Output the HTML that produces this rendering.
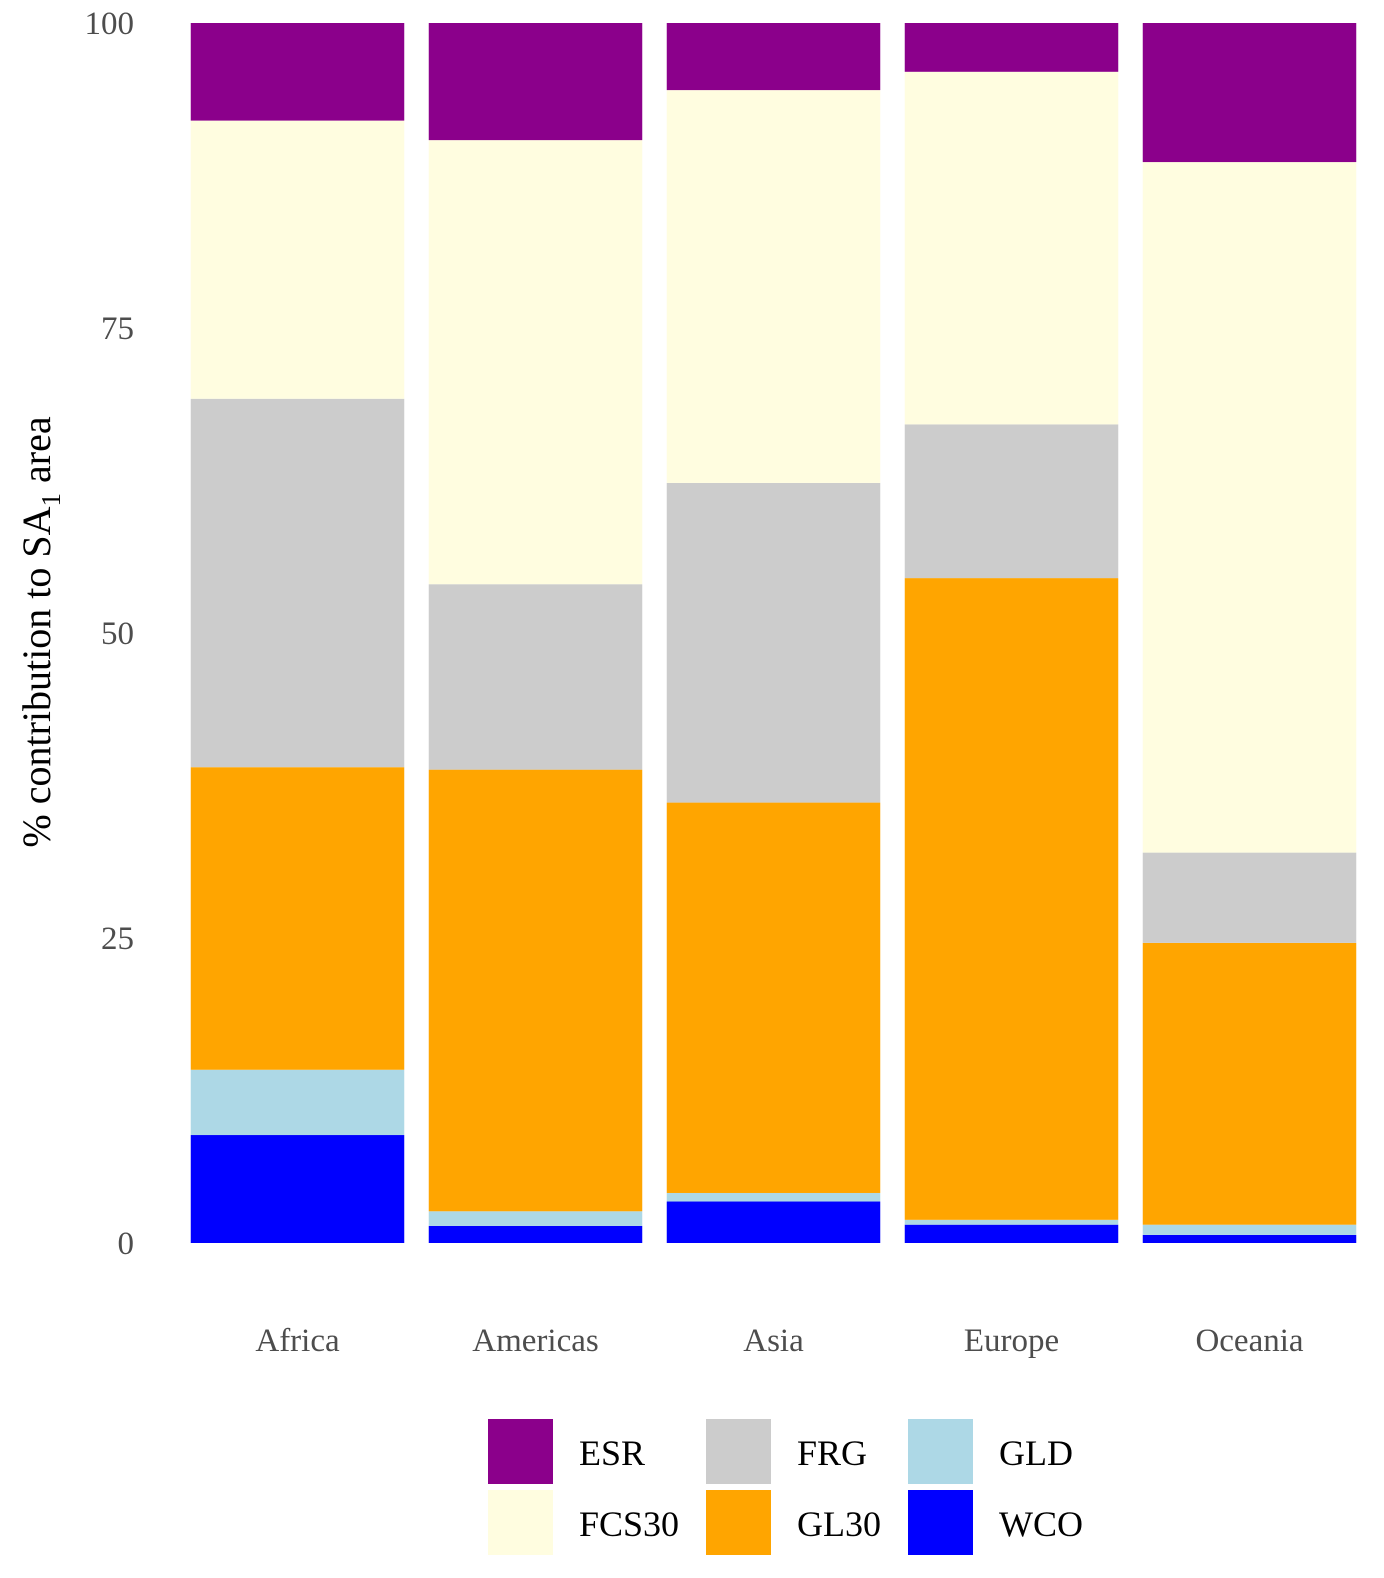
<!DOCTYPE html>
<html><head><meta charset="utf-8"><style>
html,body{margin:0;padding:0;background:#fff;width:1384px;height:1578px;overflow:hidden;}
svg{display:block;}
svg text{font-family:"Liberation Serif",serif;}
</style></head><body>
<svg id="chart" width="1384" height="1578" xmlns="http://www.w3.org/2000/svg">
<g id="plot"></g>
<text x="0" y="0" transform="translate(50,632) rotate(-90)" text-anchor="middle" font-size="40" fill="#000">% contribution to SA<tspan font-size="27" dy="10">1</tspan><tspan dy="-10"> area</tspan></text>
<g id="legend"></g>
</svg>
<script>
const categories = ["Africa","Americas","Asia","Europe","Oceania"];
const seriesNames = ["WCO","GLD","GL30","FRG","FCS30","ESR"];
const WCO   = [8.85, 1.4, 3.4, 1.5, 0.66];
const GLD   = [5.35, 1.2, 0.7, 0.4, 0.84];
const GL30  = [24.8, 36.2, 32.0, 52.6, 23.1];
const FRG   = [30.2, 15.2, 26.2, 12.6, 7.4];
const FCS30 = [22.8, 36.4, 32.2, 28.9, 56.6];
const ESR   = [8.0, 9.6, 5.5, 4.0, 11.4];
const yTicks = [0,25,50,75,100];
const colors = {WCO:"#0000FF",GLD:"#ADD8E6",GL30:"#FFA500",FRG:"#CCCCCC",FCS30:"#FFFDE0",ESR:"#8B008B"};
const seriesData = {WCO,GLD,GL30,FRG,FCS30,ESR};

const NS="http://www.w3.org/2000/svg";
const plot=document.getElementById('plot');
const x0=178.5, band=238, barW=213.5;
const yS=v=>1243-v*12.2;
const xC=i=>x0+band*(i+0.5);

yTicks.forEach(t=>{
  const el=document.createElementNS(NS,'text');
  
  
  el.setAttribute('x',134);el.setAttribute('y',yS(t)+11);
  el.setAttribute('text-anchor','end');el.setAttribute('font-size','33');el.setAttribute('fill','#4d4d4d');
  el.textContent=t;plot.appendChild(el);
});
categories.forEach((c,i)=>{
  let cum=0;
  seriesNames.forEach(s=>{
    const v=seriesData[s][i];
    const r=document.createElementNS(NS,'rect');
    
    
    r.setAttribute('x',xC(i)-barW/2);r.setAttribute('width',barW);
    r.setAttribute('y',yS(cum+v));r.setAttribute('height',yS(cum)-yS(cum+v));
    r.setAttribute('fill',colors[s]);plot.appendChild(r);
    cum+=v;
  });
  const t=document.createElementNS(NS,'text');
  
  
  t.setAttribute('x',xC(i));t.setAttribute('y',1351);t.setAttribute('text-anchor','middle');
  t.setAttribute('font-size','33');t.setAttribute('fill','#4d4d4d');t.textContent=c;plot.appendChild(t);
});
const leg=document.getElementById('legend');
const legOrder=[["ESR",488,1419],["FCS30",488,1490],["FRG",706,1419],["GL30",706,1490],["GLD",908,1419],["WCO",908,1490]];
legOrder.forEach(([s,x,y])=>{
  const r=document.createElementNS(NS,'rect');
  
  
  r.setAttribute('x',x);r.setAttribute('y',y);r.setAttribute('width',65);r.setAttribute('height',65);
  r.setAttribute('fill',colors[s]);leg.appendChild(r);
  const t=document.createElementNS(NS,'text');
  
  
  t.setAttribute('x',x+91);t.setAttribute('y',y+46);t.setAttribute('font-size','36');t.setAttribute('fill','#000');
  t.textContent=s;leg.appendChild(t);
});
</script>
</body></html>
